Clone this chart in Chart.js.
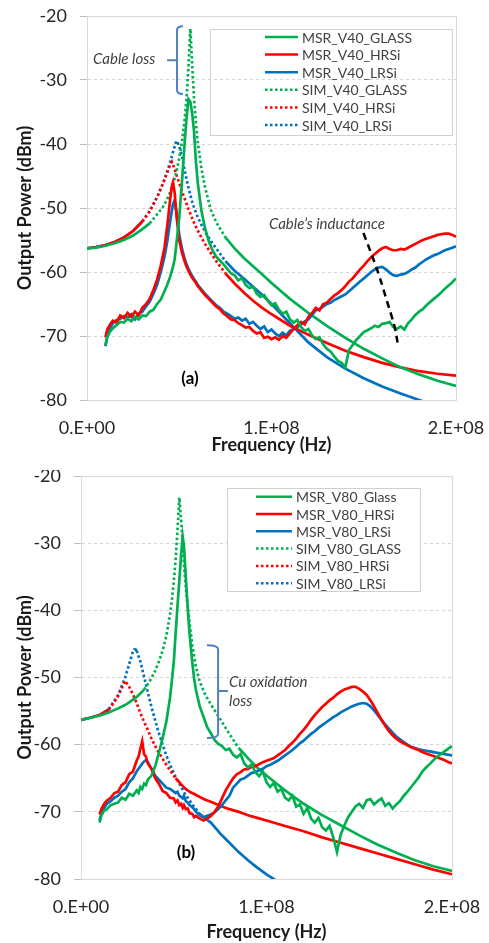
<!DOCTYPE html>
<html>
<head>
<meta charset="utf-8">
<script src="https://cdn.jsdelivr.net/npm/chart.js@4.4.1/dist/chart.umd.min.js"></script>
<style>
  body { margin: 0; background: #fff; }
  .wrap { position: absolute; left: 0; width: 489px; }
</style>
</head>
<body>
<div class="wrap" style="top:0;height:470px"><canvas id="chartA" width="489" height="470"></canvas></div>
<div class="wrap" style="top:470px;height:473px"><canvas id="chartB" width="489" height="473"></canvas></div>
<script>
// ---------- panel (a): V40 ----------
// frequencies in MHz
const freqSimA = [0, 5, 10, 15, 20, 25, 30, 34, 38, 41, 43, 45, 46, 47, 48, 48.7, 50, 51.5, 53, 54, 55, 56, 57, 58, 59, 60, 62, 64, 67, 70, 75, 80, 85, 90, 95, 100, 110, 120, 130, 140, 150, 160, 170, 180, 190, 200];

const simGlassA = [-56.3, -56.2, -55.9, -55.5, -55.0, -54.3, -53.3, -52.4, -51.0, -49.9, -48.9, -47.6, -46.8, -45.9, -44.9, -44.0, -42.2, -39.6, -36.0, -32.6, -27.8, -22.0, -27.6, -32.8, -36.6, -39.6, -43.8, -46.8, -50.2, -52.2, -54.6, -56.3, -57.8, -59.1, -60.4, -61.7, -64.2, -66.4, -68.4, -70.3, -72.0, -73.5, -74.9, -76.0, -77.0, -77.8];
const simHrsiA = [-56.3, -56.1, -55.8, -55.3, -54.6, -53.6, -52.1, -50.5, -48.3, -46.3, -44.8, -43.3, -42.8, -43.5, -44.4, -45.0, -46.1, -47.4, -48.6, -49.4, -50.2, -50.9, -51.6, -52.3, -52.9, -53.5, -54.6, -55.6, -57.0, -58.3, -60.2, -61.8, -63.2, -64.5, -65.6, -66.6, -68.4, -69.8, -71.1, -72.3, -73.3, -74.2, -74.9, -75.5, -75.9, -76.2];
const simLrsiA = [-56.3, -56.1, -55.8, -55.3, -54.6, -53.6, -52.1, -50.5, -48.3, -46.3, -44.7, -42.9, -41.9, -40.9, -39.9, -39.5, -40.4, -42.0, -44.2, -45.6, -46.8, -48.0, -49.0, -49.9, -50.7, -51.4, -52.6, -53.7, -55.1, -56.3, -58.3, -59.8, -61.0, -62.3, -63.6, -65.0, -68.0, -71.0, -73.3, -75.1, -76.6, -77.9, -79.0, -80.0, -81.0, -81.9];

const freqMsrA = [
  10, 11, 12.5, 14, 16, 18, 20, 22, 24, 26, 28, 30, 32, 34, 36, 38, 40,
  42, 43.5, 45, 46, 46.6, 47.5, 48.5, 50, 51.5, 53, 54, 55, 56, 57, 58, 59, 60,
  62, 64, 66, 68, 70, 72, 74, 76, 78, 80,
  82, 84, 86, 88, 90, 92, 94, 96, 98, 100,
  102, 104, 106, 108, 110, 112, 114, 116, 118, 120,
  122, 124, 126, 128, 130, 132, 134, 136, 138, 140,
  142, 144, 146, 148, 150, 152, 154, 156, 158, 160,
  162, 164, 166, 168, 170, 172, 174, 176, 178, 180,
  182, 184, 186, 188, 190, 192, 194, 196, 198, 200
];
const msrGlassA = [
  -71.4, -70.2, -69.3, -68.8, -68.3, -67.8, -67.9, -67.3, -67.7, -67.0, -67.4, -66.8, -66.9, -66.2, -65.9, -65.0, -64.3,
  -63.0, -62.0, -60.8, -59.8, -59.2, -58.0, -55.5, -51.5, -45.8, -39.5, -35.8, -33.0, -33.4, -35.2, -38.0, -42.6, -46.0,
  -50.4, -53.2, -55.2, -56.6, -57.6, -58.2, -58.8, -59.5, -60.2, -60.5,
  -61.3, -61.0, -62.0, -62.5, -62.3, -63.4, -63.9, -63.6, -64.5, -65.2,
  -64.9, -65.9, -66.5, -66.2, -67.4, -67.9, -67.5, -68.6, -69.2, -68.9,
  -69.9, -70.5, -70.2, -71.3, -72.0, -72.4, -73.2, -73.9, -74.2, -74.9,
  -72.2, -71.4, -70.6, -70.0, -69.4, -69.1, -68.8, -68.4, -68.6, -68.1,
  -68.0, -67.8, -68.6, -68.9, -68.5, -69.0, -68.0, -67.4, -66.7, -66.2,
  -65.8, -65.2, -64.7, -64.2, -63.7, -63.2, -62.6, -62.1, -61.6, -61.0
];
const msrHrsiA = [
  -70.2, -69.0, -68.2, -67.6, -67.9, -66.8, -67.2, -66.4, -67.0, -66.2, -66.8, -65.6, -65.0, -64.2, -62.8, -61.2, -59.0,
  -56.2, -52.8, -48.8, -46.6, -46.0, -47.6, -51.2, -55.0, -57.0, -58.4, -59.2, -59.8, -60.4, -60.9, -61.3, -61.7, -62.2,
  -62.9, -63.6, -64.2, -64.8, -65.4, -65.8, -66.5, -66.9, -67.4, -67.5,
  -68.0, -68.3, -68.7, -68.6, -69.2, -69.6, -69.4, -70.3, -70.1, -70.5,
  -70.2, -70.6, -70.0, -70.3, -69.6, -68.9, -68.3, -67.8, -68.2, -67.0,
  -66.4, -65.6, -66.0, -65.0, -64.8, -64.2, -63.7, -63.3, -62.8, -62.2,
  -61.5, -61.0, -60.3, -59.6, -59.0, -58.3, -57.7, -57.2, -56.7, -56.3,
  -56.1, -56.4, -56.6, -56.6, -56.4, -56.5, -56.2, -55.9, -55.6, -55.3,
  -55.0, -54.8, -54.6, -54.4, -54.2, -54.1, -54.0, -54.0, -54.2, -54.5
];
const msrLrsiA = [
  -71.6, -70.0, -68.8, -68.0, -67.5, -67.3, -66.9, -67.2, -66.6, -67.4, -66.5, -66.2, -65.4, -64.6, -63.4, -62.0, -60.0,
  -57.6, -55.2, -52.2, -50.4, -49.4, -48.8, -50.6, -54.2, -56.4, -58.0, -58.8, -59.5, -60.1, -60.6, -61.1, -61.5, -62.0,
  -62.7, -63.4, -64.0, -64.6, -65.2, -65.6, -66.2, -66.5, -66.9, -67.3,
  -67.1, -67.6, -67.3, -68.1, -67.8, -68.4, -68.9, -68.5, -69.4, -69.0,
  -69.6, -70.0, -69.5, -69.9, -69.2, -68.9, -68.6, -68.2, -67.7, -67.4,
  -66.7, -66.0, -65.8, -65.4, -65.0, -64.8, -64.4, -64.1, -63.8, -63.5,
  -63.0, -62.5, -62.0, -61.5, -61.0, -60.5, -60.0, -59.6, -59.3, -59.2,
  -59.6, -60.1, -60.5, -60.6, -60.4, -60.3, -60.0, -59.6, -59.3, -58.8,
  -58.4, -58.0, -57.7, -57.4, -57.2, -56.9, -56.6, -56.4, -56.2, -56.0
];

// ---------- panel (b): V80 ----------
const freqSimB = [0, 5, 10, 15, 20, 23.7, 26, 28, 29, 30, 32, 34, 36, 38, 40, 42, 44, 46, 48, 49, 50, 51, 52, 53, 54, 55, 56, 57, 58, 59, 60, 62, 64, 67, 70, 75, 80, 85, 90, 95, 100, 105, 110, 120, 130, 140, 150, 160, 170, 180, 190, 200];

const simGlassB = [-56.3, -56.0, -55.7, -55.2, -54.6, -54.1, -53.7, -53.3, -53.1, -52.9, -52.4, -51.8, -51.0, -50.1, -49.0, -47.6, -46.0, -43.8, -40.6, -38.4, -35.8, -32.5, -28.2, -23.2, -26.6, -31.0, -35.0, -38.0, -40.5, -43.0, -45.2, -48.5, -50.6, -52.6, -54.0, -56.2, -58.4, -60.5, -62.0, -63.4, -64.6, -65.7, -66.8, -68.8, -70.5, -72.0, -73.5, -74.9, -76.1, -77.2, -78.1, -78.8];
const simHrsiB = [-56.3, -56.0, -55.6, -54.8, -52.8, -50.5, -51.4, -52.5, -53.1, -53.8, -55.3, -56.6, -57.8, -59.1, -60.2, -61.2, -62.1, -63.0, -63.8, -64.2, -64.6, -65.0, -65.3, -65.6, -65.9, -66.2, -66.5, -66.7, -66.9, -67.1, -67.2, -67.5, -67.8, -68.2, -68.5, -69.1, -69.6, -70.0, -70.5, -70.9, -71.3, -71.7, -72.1, -72.9, -73.8, -74.6, -75.4, -76.2, -77.0, -77.8, -78.6, -79.3];
const simLrsiB = [-56.3, -56.0, -55.6, -54.7, -52.6, -50.1, -48.0, -46.1, -45.7, -46.0, -47.6, -49.9, -52.2, -54.4, -56.4, -58.3, -60.0, -61.6, -63.0, -63.6, -64.2, -64.8, -65.3, -65.8, -66.3, -66.8, -67.3, -67.7, -68.1, -68.5, -68.9, -69.6, -70.3, -71.0, -71.6, -73.2, -74.6, -76.0, -77.2, -78.3, -79.3, -80.2, -81.1, -82.7, null, null, null, null, null, null, null, null];

const freqMsrB = [
  10, 11, 12.5, 14, 16, 18, 20, 22, 24, 26, 28, 30,
  31, 32, 33, 34, 35, 36, 38, 40, 42, 44, 46, 48, 50,
  51, 52, 53, 54, 54.8, 55.5, 56.5, 57.5, 58.5, 60, 61, 62,
  64, 66, 68, 70,
  72, 74, 76, 78, 80, 82, 84, 86, 88, 90,
  92, 94, 96, 98, 100, 102, 104, 106, 108, 110,
  112, 114, 116, 118, 120, 122, 124, 126, 128, 130,
  132, 134, 136, 138, 140, 142, 144, 146, 148, 150,
  152, 154, 156, 158, 160, 162, 164, 166, 168, 170,
  172, 174, 176, 178, 180, 182, 184, 186, 188, 190,
  192, 194, 196, 198, 200
];
const msrGlassB = [
  -71.6, -70.5, -69.8, -69.6, -69.0, -68.8, -68.6, -67.9, -68.2, -67.3, -67.6, -66.8,
  -67.2, -66.3, -66.6, -65.8, -66.0, -65.2, -64.6, -63.2, -61.2, -59.0, -56.6, -53.0, -47.8,
  -43.5, -39.4, -35.6, -31.6, -29.0, -30.4, -35.0, -39.6, -43.4, -47.8, -50.2, -51.9,
  -54.3, -55.8, -57.4, -58.3,
  -59.3, -59.9, -60.2, -60.8, -60.6, -61.5, -61.9, -61.4, -62.8, -63.4,
  -62.9, -64.1, -64.7, -64.0, -65.6, -66.3, -65.7, -67.0, -66.6, -67.9,
  -68.3, -67.6, -69.2, -68.9, -70.3, -69.4, -71.0, -71.6, -70.9, -72.3,
  -72.8, -72.1, -73.8, -76.0, -73.4, -72.0, -70.8, -70.0, -69.2, -68.8,
  -69.4, -68.3, -68.1, -68.9, -68.4, -68.0, -69.1, -68.7, -69.5, -68.9,
  -68.4, -67.6, -67.0, -66.3, -65.6, -64.9, -64.0, -63.4, -62.9, -62.3,
  -61.8, -61.4, -61.0, -60.6, -60.2
];
const msrHrsiB = [
  -70.4, -69.6, -68.8, -68.3, -67.9, -67.2, -67.0, -66.0, -65.6, -64.4, -64.0, -62.4,
  -61.8, -60.6, -59.5, -61.4, -61.8, -62.8, -63.6, -65.0, -65.8, -66.9, -67.2, -67.9, -68.0,
  -68.6, -68.3, -69.0, -68.8, -69.4, -69.0, -69.6, -69.5, -70.2, -70.3, -70.8, -70.6,
  -71.0, -71.3, -71.0, -70.6,
  -70.0, -69.2, -68.0, -66.8, -65.9, -65.0, -64.4, -64.1, -63.7, -63.6,
  -63.3, -63.2, -62.9, -62.6, -62.4, -62.2, -62.0, -61.6, -61.2, -60.8,
  -60.2, -59.7, -59.1, -58.4, -57.8, -57.1, -56.3, -55.6, -55.0, -54.4,
  -53.9, -53.4, -53.0, -52.5, -52.1, -51.8, -51.6, -51.4, -51.4, -51.7,
  -52.1, -52.6, -53.4, -54.3, -55.3, -56.3, -57.2, -58.0, -58.6, -59.1,
  -59.5, -59.8, -60.1, -60.4, -60.6, -60.8, -61.1, -61.3, -61.5, -61.7,
  -61.9, -62.1, -62.3, -62.6, -62.8
];
const msrLrsiB = [
  -71.3, -70.2, -69.4, -68.8, -68.4, -67.9, -67.6, -67.0, -66.6, -65.6, -65.0, -64.0,
  -63.6, -63.2, -62.8, -62.5, -62.3, -62.6, -63.6, -64.6, -65.2, -65.8, -66.4, -66.6, -67.0,
  -67.2, -67.0, -67.6, -67.8, -68.0, -67.6, -68.4, -68.6, -69.0, -69.3, -69.6, -70.0,
  -70.5, -70.8, -70.6, -70.4,
  -70.1, -69.6, -69.0, -68.3, -67.6, -66.4, -65.8, -65.2, -65.0, -64.6,
  -64.2, -64.1, -63.8, -63.6, -63.2, -63.0, -62.7, -62.4, -62.0, -61.6,
  -61.2, -60.8, -60.3, -59.8, -59.4, -58.9, -58.4, -58.0, -57.5, -57.1,
  -56.7, -56.3, -55.9, -55.6, -55.2, -54.9, -54.6, -54.3, -54.1, -53.9,
  -53.8, -53.9, -54.3, -54.9, -55.6, -56.3, -57.0, -57.6, -58.2, -58.8,
  -59.2, -59.6, -60.0, -60.3, -60.5, -60.7, -60.8, -60.9, -61.0, -61.1,
  -61.2, -61.3, -61.4, -61.5, -61.6
];

const GREEN = '#00b050';
const RED = '#ff0000';
const BLUE = '#0070c0';

Chart.defaults.font.family = 'Lato';

function pts(freqs, vals) {
  return freqs.map((f, i) => ({ x: f * 1e6, y: vals[i] }));
}

// Excel draws its dotted series dotted only where the curve is steep
const steepDots = c => {
  const dx = Math.abs(c.p1.x - c.p0.x), dy = Math.abs(c.p1.y - c.p0.y);
  return dy > 1.2 * dx ? [2.5, 2.5] : undefined;
};

function series(label, freqs, vals, color, dotted) {
  return {
    label: label,
    data: pts(freqs, vals),
    borderColor: color,
    backgroundColor: color,
    borderWidth: 2.7,
    pointRadius: 0,
    tension: 0,
    dotted: dotted,
    segment: dotted ? { borderDash: steepDots } : undefined
  };
}

const frame = {
  id: 'frame',
  beforeDatasetsDraw(chart) {
    const { ctx, chartArea: a } = chart;
    ctx.save();
    ctx.strokeStyle = '#d9d9d9';
    ctx.lineWidth = 1;
    ctx.strokeRect(Math.round(a.left) + 0.5, Math.round(a.top) + 0.5, a.right - a.left, a.bottom - a.top);
    ctx.restore();
  }
};

const boxLegend = {
  id: 'boxLegend',
  afterDraw(chart, args, o) {
    const ctx = chart.ctx;
    ctx.save();
    if (o.fill) {
      ctx.fillStyle = '#fff';
      ctx.fillRect(o.left, o.top, o.width, o.height);
    }
    ctx.strokeStyle = '#d0d0d0';
    ctx.lineWidth = 1;
    ctx.strokeRect(o.left + 0.5, o.top + 0.5, o.width, o.height);
    ctx.font = '14px Lato';
    ctx.textBaseline = 'middle';
    chart.data.datasets.forEach((ds, i) => {
      const y = o.firstRow + i * o.rowStep;
      ctx.beginPath();
      ctx.strokeStyle = ds.borderColor;
      ctx.lineWidth = 2.5;
      ctx.setLineDash(ds.dotted ? [2.5, 2.5] : []);
      ctx.moveTo(o.lineX0, y);
      ctx.lineTo(o.lineX1, y);
      ctx.stroke();
      ctx.setLineDash([]);
      ctx.fillStyle = '#404040';
      ctx.fillText(ds.label, o.textX, y + 1);
    });
    ctx.restore();
  }
};

const notes = {
  id: 'notes',
  afterDraw(chart, args, o) {
    const { ctx, scales } = chart;
    const X = v => scales.x.getPixelForValue(v * 1e6);
    const Y = v => scales.y.getPixelForValue(v);
    ctx.save();
    (o.braces || []).forEach(b => {
      const r = 4, x = X(b.x), t = Y(b.top), btm = Y(b.bottom), arm = X(b.arm);
      ctx.beginPath();
      ctx.strokeStyle = '#4f81bd';
      ctx.lineWidth = 2;
      ctx.moveTo(arm, t);
      ctx.quadraticCurveTo(x, t, x, t + r);
      ctx.lineTo(x, btm - r);
      ctx.quadraticCurveTo(x, btm, arm, btm);
      ctx.moveTo(x, Y(b.mid));
      ctx.lineTo(X(b.tip), Y(b.mid));
      ctx.stroke();
    });
    (o.curves || []).forEach(c => {
      const p = c.map(q => [X(q[0]), Y(q[1])]);
      ctx.beginPath();
      ctx.strokeStyle = '#000';
      ctx.lineWidth = 2.5;
      ctx.setLineDash([7, 5]);
      ctx.moveTo(p[0][0], p[0][1]);
      for (let i = 1; i < p.length - 1; i++) {
        const mx = (p[i][0] + p[i + 1][0]) / 2, my = (p[i][1] + p[i + 1][1]) / 2;
        ctx.quadraticCurveTo(p[i][0], p[i][1], mx, my);
      }
      ctx.lineTo(p[p.length - 1][0], p[p.length - 1][1]);
      ctx.stroke();
      ctx.setLineDash([]);
    });
    ctx.textBaseline = 'middle';
    (o.texts || []).forEach(t => {
      ctx.font = t.font;
      ctx.fillStyle = t.color || '#404040';
      ctx.textAlign = t.align || 'left';
      ctx.fillText(t.text, X(t.x), Y(t.y));
    });
    ctx.restore();
  }
};

function tickHz(v) {
  if (v === 0) return '0.E+00';
  return Math.round(v / 1e8) + '.E+08';
}

function makeChart(id, datasets, cfg) {
  return new Chart(document.getElementById(id), {
    type: 'line',
    data: { datasets: datasets },
    options: {
      responsive: false,
      animation: false,
      layout: { padding: cfg.padding },
      plugins: {
        legend: { display: false },
        tooltip: { enabled: false },
        boxLegend: cfg.legend,
        notes: cfg.notes
      },
      scales: {
        x: {
          type: 'linear',
          min: 0,
          max: 2e8,
          afterFit: s => { s.height = cfg.xHeight; s.paddingLeft = 0; s.paddingRight = 0; },
          grid: { display: false, drawTicks: false },
          border: { display: true, color: '#bfbfbf' },
          ticks: {
            stepSize: 1e8, autoSkip: false, maxRotation: 0, padding: 17,
            color: '#262626', font: { size: 18 }, callback: tickHz
          },
          title: {
            display: true, text: 'Frequency (Hz)', color: '#1a1a1a',
            font: { size: 18, weight: 'bold' }, padding: { top: 0, bottom: cfg.xTitlePad }
          }
        },
        y: {
          min: -80,
          max: -20,
          afterFit: s => { s.width = cfg.yWidth; s.paddingTop = 0; s.paddingBottom = 0; },
          grid: { color: '#d4d4d4', tickColor: '#bfbfbf', tickLength: 7, tickBorderDash: [] },
          border: { display: true, color: '#bfbfbf', dash: [3, 3] },
          ticks: { stepSize: 10, padding: 13, color: '#262626', font: { size: 18 } },
          title: {
            display: true, text: 'Output Power (dBm)', color: '#1a1a1a',
            font: { size: 18, weight: 'bold' }, padding: { top: 14, bottom: 0 }
          }
        }
      }
    },
    plugins: [frame, boxLegend, notes]
  });
}

makeChart('chartA', [
  series('MSR_V40_GLASS', freqMsrA, msrGlassA, GREEN, false),
  series('MSR_V40_HRSi', freqMsrA, msrHrsiA, RED, false),
  series('MSR_V40_LRSi', freqMsrA, msrLrsiA, BLUE, false),
  series('SIM_V40_GLASS', freqSimA, simGlassA, GREEN, true),
  series('SIM_V40_HRSi', freqSimA, simHrsiA, RED, true),
  series('SIM_V40_LRSi', freqSimA, simLrsiA, BLUE, true)
], {
  padding: { top: 16, right: 33, left: 0, bottom: 0 },
  xHeight: 70, yWidth: 87, xTitlePad: 14,
  legend: { fill: false, left: 210, top: 29, width: 242, height: 106, firstRow: 37, rowStep: 17.6, lineX0: 265, lineX1: 298, textX: 302 },
  notes: {
    braces: [{ x: 48.8, top: -21.6, bottom: -32.2, arm: 52.0, mid: -26.9, tip: 43.4 }],
    curves: [[[149.8, -53.9], [157, -59.2], [162.4, -64.4], [166.9, -68.5], [168.7, -71.7]]],
    texts: [
      { text: 'Cable loss', x: 3.3, y: -26.7, font: 'italic 15px Lato' },
      { text: 'Cable\u2019s inductance', x: 98.6, y: -52.5, font: 'italic 15px Lato' },
      { text: '(a)', x: 55.8, y: -76.7, font: 'bold 17px Lato', align: 'center', color: '#000' }
    ]
  }
});

makeChart('chartB', [
  series('MSR_V80_Glass', freqMsrB, msrGlassB, GREEN, false),
  series('MSR_V80_HRSi', freqMsrB, msrHrsiB, RED, false),
  series('MSR_V80_LRSi', freqMsrB, msrLrsiB, BLUE, false),
  series('SIM_V80_GLASS', freqSimB, simGlassB, GREEN, true),
  series('SIM_V80_HRSi', freqSimB, simHrsiB, RED, true),
  series('SIM_V80_LRSi', freqSimB, simLrsiB, BLUE, true)
], {
  padding: { top: 6, right: 37, left: 0, bottom: 0 },
  xHeight: 64, yWidth: 81, xTitlePad: 0,
  legend: { fill: true, left: 227, top: 18, width: 193, height: 103, firstRow: 26.7, rowStep: 17.3, lineX0: 256, lineX1: 292, textX: 296 },
  notes: {
    braces: [{ x: 73.9, top: -45.2, bottom: -59.0, arm: 67.9, mid: -52.0, tip: 79.2 }],
    texts: [
      { text: 'Cu oxidation', x: 79.8, y: -50.7, font: 'italic 15px Lato' },
      { text: 'loss', x: 79.8, y: -53.5, font: 'italic 15px Lato' },
      { text: '(b)', x: 56.6, y: -76.1, font: 'bold 17px Lato', align: 'center', color: '#000' }
    ]
  }
});
</script>
</body>
</html>
